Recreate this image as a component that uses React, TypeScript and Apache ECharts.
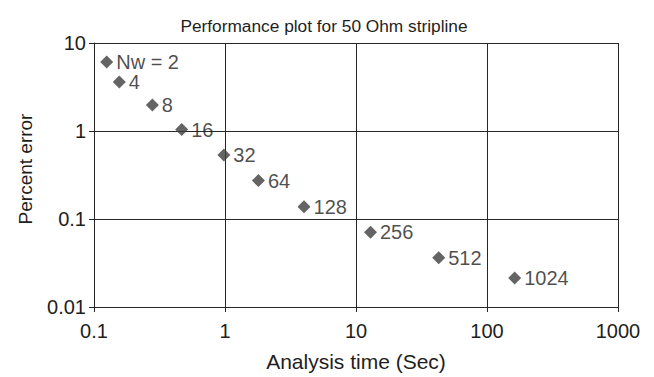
import React, { useEffect, useRef } from "react";
import * as echarts from "echarts";

const nwLabels = ["Nw = 2", "4", "8", "16", "32", "64", "128", "256", "512", "1024"];
const analysisTime = [0.125, 0.156, 0.279, 0.467, 0.98, 1.8, 4.01, 12.9, 42.8, 162.6];
const percentError = [6.08, 3.6, 1.98, 1.04, 0.532, 0.273, 0.138, 0.0707, 0.0363, 0.0214];
const xTicks = ["0.1", "1", "10", "100", "1000"];
const yTicks = ["0.01", "0.1", "1", "10"];

const FONT = "Liberation Sans, Arial, Helvetica, sans-serif";
const LINE = "#262626";
const TEXT = "#1e1e1e";

export default function App() {
  const ref = useRef<HTMLDivElement>(null);
  useEffect(() => {
    if (!ref.current) return;
    const chart = echarts.init(ref.current, undefined, { renderer: "svg" });
    const fmt = (v: number, ticks: string[]) => {
      const s = ticks.find((t) => Math.abs(parseFloat(t) - v) / v < 1e-6);
      return s ?? "";
    };
    chart.setOption({
      animation: false,
      backgroundColor: "#ffffff",
      title: {
        text: "Performance plot for 50 Ohm stripline",
        left: 319,
        textAlign: "center",
        top: 12,
        textStyle: { fontFamily: FONT, fontSize: 17.3, fontWeight: "normal", color: TEXT },
      },
      graphic: [
        {
          type: "text",
          x: 25,
          y: 169,
          rotation: Math.PI / 2,
          style: {
            text: "Percent error",
            fontFamily: FONT,
            fontSize: 19,
            fill: TEXT,
            textAlign: "center",
            textVerticalAlign: "middle",
          },
        },
      ],
      grid: { left: 94, right: 36, top: 43, bottom: 65, containLabel: false },
      xAxis: {
        type: "log",
        logBase: 10,
        min: 0.1,
        max: 1000,
        name: "Analysis time (Sec)",
        nameLocation: "middle",
        nameGap: 44,
        nameTextStyle: { fontFamily: FONT, fontSize: 21, color: TEXT },
        axisLine: { lineStyle: { color: LINE, width: 1 } },
        axisTick: { show: true, inside: false, length: 5, lineStyle: { color: LINE } },
        axisLabel: {
          fontFamily: FONT,
          fontSize: 20,
          color: TEXT,
          margin: 14,
          formatter: (v: number) => fmt(v, xTicks),
        },
        splitLine: { show: true, lineStyle: { color: LINE, width: 1 } },
        minorTick: { show: false },
      },
      yAxis: {
        type: "log",
        logBase: 10,
        min: 0.01,
        max: 10,
        axisLine: { show: true, lineStyle: { color: LINE, width: 1 } },
        axisTick: { show: true, inside: false, length: 5, lineStyle: { color: LINE } },
        axisLabel: {
          fontFamily: FONT,
          fontSize: 20,
          color: TEXT,
          margin: 8,
          formatter: (v: number) => fmt(v, yTicks),
        },
        splitLine: { show: true, lineStyle: { color: LINE, width: 1 } },
      },
      series: [
        {
          type: "scatter",
          symbol: "diamond",
          symbolSize: 13,
          itemStyle: { color: "#3d3d3d" },
          data: analysisTime.map((x, i) => ({ value: [x, percentError[i]], name: nwLabels[i] })),
          label: {
            show: true,
            position: "right",
            distance: 3,
            formatter: (p: any) => p.name,
            fontFamily: FONT,
            fontSize: 20,
            color: TEXT,
          },
        },
      ],
    });
    return () => chart.dispose();
  }, []);
  return (
    <div
      ref={ref}
      style={{ position: "absolute", left: 0, top: 0, width: 654, height: 377 }}
    />
  );
}
